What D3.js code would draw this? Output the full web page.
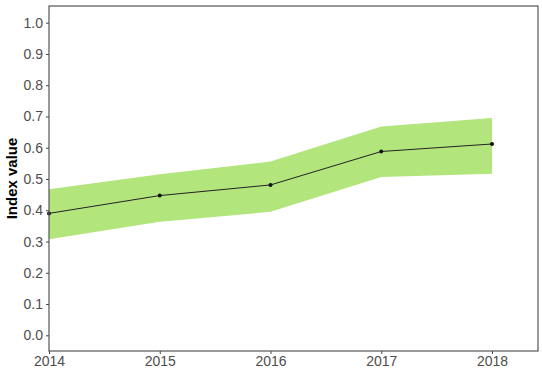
<!DOCTYPE html>
<html>
<head>
<meta charset="utf-8">
<script src="https://cdn.jsdelivr.net/npm/d3@7"></script>
<style>
  body { margin: 0; background: #fff; }
  text { font-family: "Liberation Sans", Arial, sans-serif; }
</style>
</head>
<body>
<svg id="chart" width="542" height="370"></svg>
<script>
// values
const years = [2014, 2015, 2016, 2017, 2018];
const indexValue = [0.390, 0.447, 0.481, 0.588, 0.612];
const upperBound = [0.467, 0.515, 0.556, 0.668, 0.695];
const lowerBound = [0.307, 0.363, 0.395, 0.506, 0.517];
const yTicks = [0, 0.1, 0.2, 0.3, 0.4, 0.5, 0.6, 0.7, 0.8, 0.9, 1.0];

const svg = d3.select("#chart");
const panelLeft = 49, panelRight = 538, panelTop = 6, panelBottom = 351;

let x = d3.scaleLinear().domain([2014, 2018]).range([49, 492]);
// panel runs a bit past 2018 on the right
x.domain([2014, x.invert(panelRight)]).range([panelLeft, panelRight]);
let y = d3.scaleLinear().domain([0, 1]).range([335.3, 22.7]);

let rows = years.map(function (yr, i) {
  return { year: yr, v: indexValue[i], lo: lowerBound[i], hi: upperBound[i] };
});

// ribbon
svg.append("path")
  .datum(rows)
  .attr("fill", "#b3e57d")
  .attr("d", d3.area()
    .x(d => x(d.year))
    .y0(d => y(d.lo))
    .y1(d => y(d.hi)));

// line + points
svg.append("path")
  .datum(rows)
  .attr("fill", "none")
  .attr("stroke", "#222")
  .attr("stroke-width", 1)
  .attr("d", d3.line().x(d => x(d.year)).y(d => y(d.v)));

svg.selectAll("circle.pt")
  .data(rows)
  .join("circle")
  .attr("class", "pt")
  .attr("cx", d => x(d.year))
  .attr("cy", d => y(d.v))
  .attr("r", 2)
  .attr("fill", "#111");

// axes
let yAxis = d3.axisLeft(y).tickValues(yTicks).tickFormat(d3.format(".1f")).tickSize(3).tickPadding(3);
let gy = svg.append("g").attr("transform", "translate(" + panelLeft + ",0)").call(yAxis);
let xAxis = d3.axisBottom(x).tickValues(years).tickFormat(d3.format("d")).tickSize(3).tickPadding(2);
let gx = svg.append("g").attr("transform", "translate(0," + panelBottom + ")").call(xAxis);

[gy, gx].forEach(function (g) {
  g.select(".domain").remove();
  g.selectAll(".tick line").attr("stroke", "#444");
  g.selectAll(".tick text")
    .attr("fill", "#4d4d4d")
    .style("font-size", "14px")
    .style("font-family", "'Liberation Sans', Arial, sans-serif");
});

// panel border
svg.append("rect")
  .attr("x", panelLeft).attr("y", panelTop)
  .attr("width", panelRight - panelLeft).attr("height", panelBottom - panelTop)
  .attr("fill", "none")
  .attr("stroke", "#555")
  .attr("stroke-width", 1.2);

// y title
svg.append("text")
  .attr("transform", "translate(17," + (panelTop + panelBottom) / 2 + ") rotate(-90)")
  .attr("text-anchor", "middle")
  .style("font-size", "15px")
  .style("font-weight", "bold")
  .attr("fill", "#000")
  .text("Index value");
</script>
</body>
</html>
